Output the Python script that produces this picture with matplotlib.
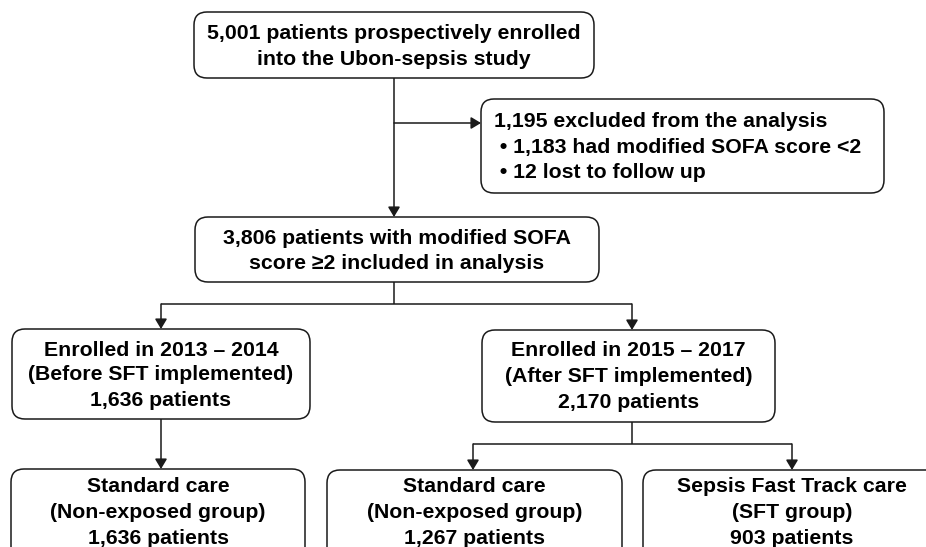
import matplotlib
matplotlib.use('Agg')
from matplotlib import pyplot as plt
from matplotlib.patches import FancyBboxPatch

# box texts
top_lines = ['5,001 patients prospectively enrolled', 'into the Ubon-sepsis study']
excluded_lines = ['1,195 excluded from the analysis',
                  ' \u2022 1,183 had modified SOFA score <2',
                  ' \u2022 12 lost to follow up']
included_lines = ['3,806 patients with modified SOFA', 'score \u22652 included in analysis']
before_lines = ['Enrolled in 2013 \u2013 2014', '(Before SFT implemented)', '1,636 patients']
after_lines = ['Enrolled in 2015 \u2013 2017', '(After SFT implemented)', '2,170 patients']
std_before_lines = ['Standard care', '(Non-exposed group)', '1,636 patients']
std_after_lines = ['Standard care', '(Non-exposed group)', '1,267 patients']
sft_lines = ['Sepsis Fast Track care', '(SFT group)', '903 patients']

LINE = '#1a1a1a'
FS = 15.3
FAMILY = ['Liberation Sans', 'DejaVu Sans']

fig = plt.figure(figsize=(9.26, 5.47), dpi=100)
ax = fig.add_axes([0, 0, 1, 1])
ax.set_xlim(0, 926)
ax.set_ylim(547, 0)
ax.axis('off')


def box(x0, y0, x1, y1, lines, first_y, step=25.5, left=None):
    p = FancyBboxPatch((x0, y0), x1 - x0, y1 - y0,
                       boxstyle='round,pad=0,rounding_size=13',
                       fc='white', ec=LINE, lw=1.1, zorder=2)
    ax.add_patch(p)
    for i, t in enumerate(lines):
        y = first_y + i * step
        if left is None:
            ax.text((x0 + x1) / 2, y, t, ha='center', va='center', fontsize=FS,
                    fontweight='bold', family=FAMILY, zorder=3)
        else:
            ax.text(left, y, t, ha='left', va='center', fontsize=FS,
                    fontweight='bold', family=FAMILY, zorder=3)


def line(xs, ys):
    ax.plot(xs, ys, color=LINE, lw=1.1, solid_capstyle='butt', zorder=1)


def arrow(x0, y0, x1, y1):
    ax.annotate('', xy=(x1, y1), xytext=(x0, y0),
                arrowprops=dict(arrowstyle='-|>,head_length=0.5,head_width=0.3',
                                color=LINE, lw=1.1,
                                mutation_scale=12, shrinkA=0, shrinkB=0),
                zorder=1)


box(194, 12, 594, 78, top_lines, 33.5, step=26)
box(481, 99, 884, 193, excluded_lines, 121.5, step=25.5, left=494)
box(195, 217, 599, 282, included_lines, 238, step=25.5)
box(12, 329, 310, 419, before_lines, 350, step=25)
box(482, 330, 775, 422, after_lines, 351, step=25.5)
box(11, 469, 305, 580, std_before_lines, 487, step=25.5)
box(327, 470, 622, 580, std_after_lines, 487, step=25.5)
box(643, 470, 941, 580, sft_lines, 487, step=25.5)

arrow(394, 78, 394, 217)
arrow(394, 123, 481, 123)

line([394, 394], [282, 304])
line([161, 632], [304, 304])
arrow(161, 304, 161, 329)
arrow(632, 304, 632, 330)

arrow(161, 419, 161, 469)

line([632, 632], [422, 444])
line([473, 792], [444, 444])
arrow(473, 444, 473, 470)
arrow(792, 444, 792, 470)

plt.savefig('out.png', dpi=100)
